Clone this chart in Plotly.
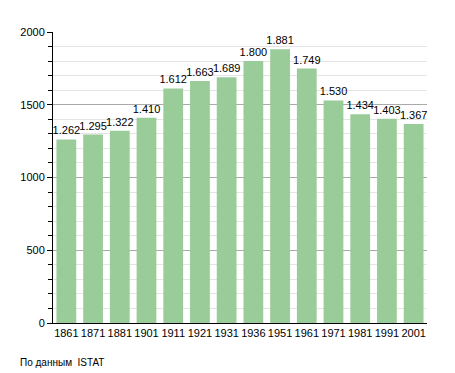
import plotly.graph_objects as go

years = ["1861", "1871", "1881", "1901", "1911", "1921", "1931", "1936", "1951", "1961", "1971", "1981", "1991", "2001"]
population = [1262, 1295, 1322, 1410, 1612, 1663, 1689, 1800, 1881, 1749, 1530, 1434, 1403, 1367]
source_note = "По данным  ISTAT"

fig = go.Figure()
fig.add_trace(go.Bar(
    x=years, y=population,
    marker=dict(color="#99cc99", line=dict(width=0)),
    texttemplate="%{y:,}", textposition="outside", constraintext="none",
    textfont=dict(size=11, color="black", family="Liberation Sans, Arial"),
    cliponaxis=False,
))

fig.update_layout(
    width=447, height=365,
    margin=dict(l=42, r=28, t=24, b=50),
    plot_bgcolor="white", paper_bgcolor="white",
    separators=",.",
    bargap=0.26,
    showlegend=False,
    font=dict(family="Liberation Sans, Arial", size=11, color="black"),
    xaxis=dict(
        type="category", showline=True, linecolor="black", linewidth=1,
        ticks="", tickfont=dict(size=11), showgrid=False,
    ),
    yaxis=dict(
        range=[0, 2000], dtick=500, showline=True, linecolor="black", linewidth=1,
        ticks="outside", ticklen=5, tickcolor="black",
        gridcolor="#aaaaaa", gridwidth=1, zeroline=False,
        tickfont=dict(size=11),
        minor=dict(dtick=100, ticks="outside", ticklen=4, tickcolor="black",
                   showgrid=True, gridcolor="#e4e4e4", gridwidth=1),
    ),
    annotations=[dict(
        text=source_note, xref="paper", yref="paper", x=-0.093, y=-0.11,
        xanchor="left", yanchor="top", showarrow=False,
        font=dict(size=10, color="black"),
    )],
)

fig.write_html("out.html")
